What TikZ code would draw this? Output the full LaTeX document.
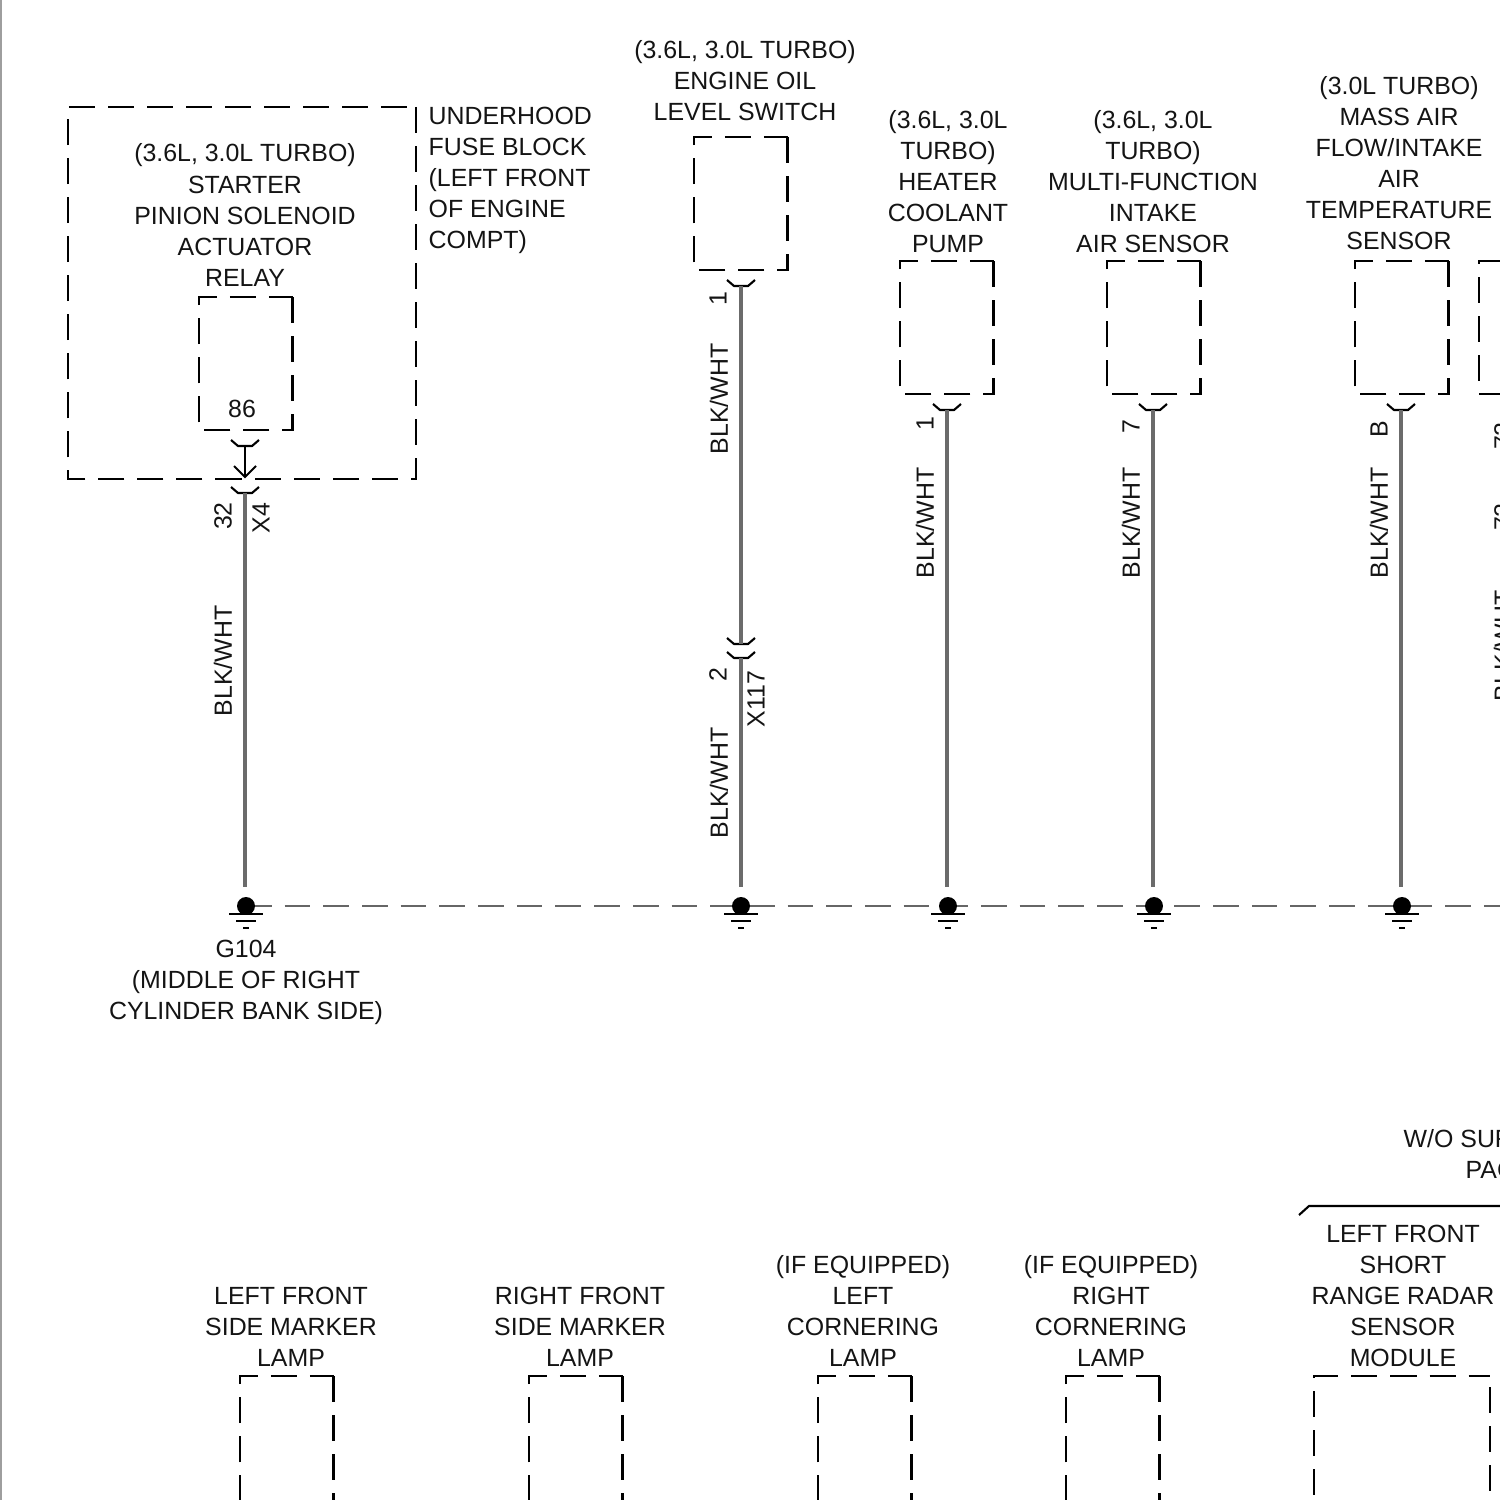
\documentclass[tikz,border=0pt]{standalone}
\usepackage{fontspec}
\setmainfont{Liberation Sans}
\usetikzlibrary{calc}
\begin{document}
\begin{tikzpicture}
[x=0.01cm,y=-0.01cm,
lbl/.style = {font=\fontsize{7.08}{8.82}\selectfont, align=center, inner sep=0pt, text=black!92},
lblleft/.style = {lbl, align=left, anchor=west},
vlbl/.style = {lbl, rotate=90},
dashbox/.style = {draw, line width=0.6pt, dash pattern=on 7.4pt off 3.7pt},
wire/.style = {draw=black!58, line width=1.15pt},
hook/.style = {draw, line width=0.6pt},
point/.style = {draw, circle, fill = black, inner sep = 0pt, minimum size=4.7pt},
gnd/.style = {draw, line width=0.6pt},
gndline/.style = {draw=black!60, line width=0.4pt, dash pattern=on 7.3pt off 3.7pt},
]

% pin hook, opening upward, bottom centre at #1
\def\pinhook#1{\draw[hook] ($(#1)+(-14,-6)$) -- ($(#1)+(-7,0)$) -- ($(#1)+(7,0)$) -- ($(#1)+(14,-6)$);}
% ground symbol under the named point
\def\gndmark#1{
\draw[gnd] ($(#1)+(-17,8)$) -- ($(#1)+(17,8)$);
\draw[gnd] ($(#1)+(-10,15)$) -- ($(#1)+(10,15)$);
\draw[gnd] ($(#1)+(-3,22)$) -- ($(#1)+(3,22)$);}
% component box, top left at (#1,#2), dashes start at its top right corner
\def\compbox#1#2{\draw[dashbox] (#1+93.5,#2) -- (#1+93.5,#2+133) -- (#1,#2+133) -- (#1,#2) -- cycle;}

\useasboundingbox (0,0) rectangle (1500,1500);
\clip (0,0) rectangle (1500,1500);
\draw[black!38, line width=0.6pt] (0.8,0) -- (0.8,1500);

% upper row, components
\draw[dashbox] (416,107) -- (416,479) -- (68,479) -- (68,107) -- cycle;
\compbox{199}{297}
\compbox{694}{137}
\compbox{900}{261}
\compbox{1107}{261}
\compbox{1355}{261}
\draw[dashbox,dash phase=7.4pt] (1479,394) -- (1479,261) -- (1600,261);
\draw[dashbox] (1479,394) -- (1600,394);

% grounds
\coordinate (Gstart) at (246,906);
\coordinate (Gend) at (1500,906);
\draw[gndline] (Gstart)--(Gend);
\node (G1) at (246,906)[point] {};
\node (G2) at (741,906)[point] {};
\node (G3) at (948,906)[point] {};
\node (G4) at (1154,906)[point] {};
\node (G5) at (1402,906)[point] {};
\gndmark{G1}
\gndmark{G2}
\gndmark{G3}
\gndmark{G4}
\gndmark{G5}

% wires
\coordinate (P1a) at (245,446);
\coordinate (P1b) at (245,477);
\coordinate (P1c) at (245,493);
\coordinate (P1d) at (245,887);
\coordinate (P2a) at (741,286);
\coordinate (P2b) at (741,644);
\coordinate (P2c) at (741,658);
\coordinate (P2d) at (741,887);
\coordinate (P3a) at (947,410);
\coordinate (P3d) at (947,887);
\coordinate (P4a) at (1153,410);
\coordinate (P4d) at (1153,887);
\coordinate (P5a) at (1401,410);
\coordinate (P5d) at (1401,887);
\pinhook{P1a}
\pinhook{P1c}
\pinhook{P2a}
\pinhook{P2b}
\pinhook{P2c}
\pinhook{P3a}
\pinhook{P4a}
\pinhook{P5a}
\draw[hook] (P1a)--(P1b);
\draw[hook] ($(P1b)+(-11,-11)$) -- (P1b) -- ($(P1b)+(11,-11)$);
\draw[wire] (P1c)--(P1d);
\draw[wire] (P2a)--(P2b);
\draw[wire] (P2c)--(P2d);
\draw[wire] (P3a)--(P3d);
\draw[wire] (P4a)--(P4d);
\draw[wire] (P5a)--(P5d);

% upper row, labels
\node[lbl] (starter) at (245,215) {(3.6L, 3.0L TURBO)\\STARTER\\PINION SOLENOID\\ACTUATOR\\RELAY};
\node[lblleft] (fuse) at (428,180) {UNDERHOOD\\FUSE BLOCK\\(LEFT FRONT\\OF ENGINE\\COMPT)};
\node[lbl] (oil) at (745,81) {(3.6L, 3.0L TURBO)\\ENGINE OIL\\LEVEL SWITCH};
\node[lbl] (heater) at (948,182) {(3.6L, 3.0L\\TURBO)\\HEATER\\COOLANT\\PUMP};
\node[lbl] (intake) at (1153,182) {(3.6L, 3.0L\\TURBO)\\MULTI-FUNCTION\\INTAKE\\AIR SENSOR};
\node[lbl] (maf) at (1399,163) {(3.0L TURBO)\\MASS AIR\\FLOW/INTAKE\\AIR\\TEMPERATURE\\SENSOR};
\node[lbl] (pin86) at (242,409) {86};
\node[vlbl] (pin32) at (223,516) {32};
\node[vlbl] (x4) at (261,518) {X4};
\node[vlbl] (w1) at (223,661) {BLK/WHT};
\node[vlbl] (pin1a) at (718,299) {1};
\node[vlbl] (w2) at (719,399) {BLK/WHT};
\node[vlbl] (pin2) at (718,675) {2};
\node[vlbl] (x117) at (756,699) {X117};
\node[vlbl] (w3) at (719,783) {BLK/WHT};
\node[vlbl] (pin1b) at (925,424) {1};
\node[vlbl] (w4) at (925,523) {BLK/WHT};
\node[vlbl] (pin7) at (1131,427) {7};
\node[vlbl] (w5) at (1131,523) {BLK/WHT};
\node[vlbl] (pinB) at (1379,429) {B};
\node[vlbl] (w6) at (1379,523) {BLK/WHT};
\node[vlbl] (pin72a) at (1503,436) {72};
\node[vlbl] (pin72b) at (1503,517) {72};
\node[vlbl] (w7) at (1503,646) {BLK/WHT};
\node[lbl] (g104) at (246,982) {G104\\(MIDDLE OF RIGHT\\CYLINDER BANK SIDE)};

% lower row
\node[lbl] (lfm) at (291,1327) {LEFT FRONT\\SIDE MARKER\\LAMP};
\node[lbl] (rfm) at (580,1327) {RIGHT FRONT\\SIDE MARKER\\LAMP};
\node[lbl] (lcl) at (863,1311) {(IF EQUIPPED)\\LEFT\\CORNERING\\LAMP};
\node[lbl] (rcl) at (1111,1311) {(IF EQUIPPED)\\RIGHT\\CORNERING\\LAMP};
\node[lbl] (radar) at (1403,1296) {LEFT FRONT\\SHORT\\RANGE RADAR\\SENSOR\\MODULE};
\node[lblleft] (opt1) at (1403,1139) {W/O SURROUND};
\node[lblleft] (opt2) at (1465,1170) {PACKAGE};
\coordinate (Ba) at (1299,1215);
\coordinate (Bb) at (1309,1206);
\coordinate (Bc) at (1500,1206);
\draw[hook] (Ba)--(Bb)--(Bc);
\compbox{240}{1376}
\compbox{529}{1376}
\compbox{818}{1376}
\compbox{1066}{1376}
\draw[dashbox,dash phase=7.97pt] (1490,1376) -- (1490,1509) -- (1314,1509) -- (1314,1376) -- cycle;

\end{tikzpicture}
\end{document}
